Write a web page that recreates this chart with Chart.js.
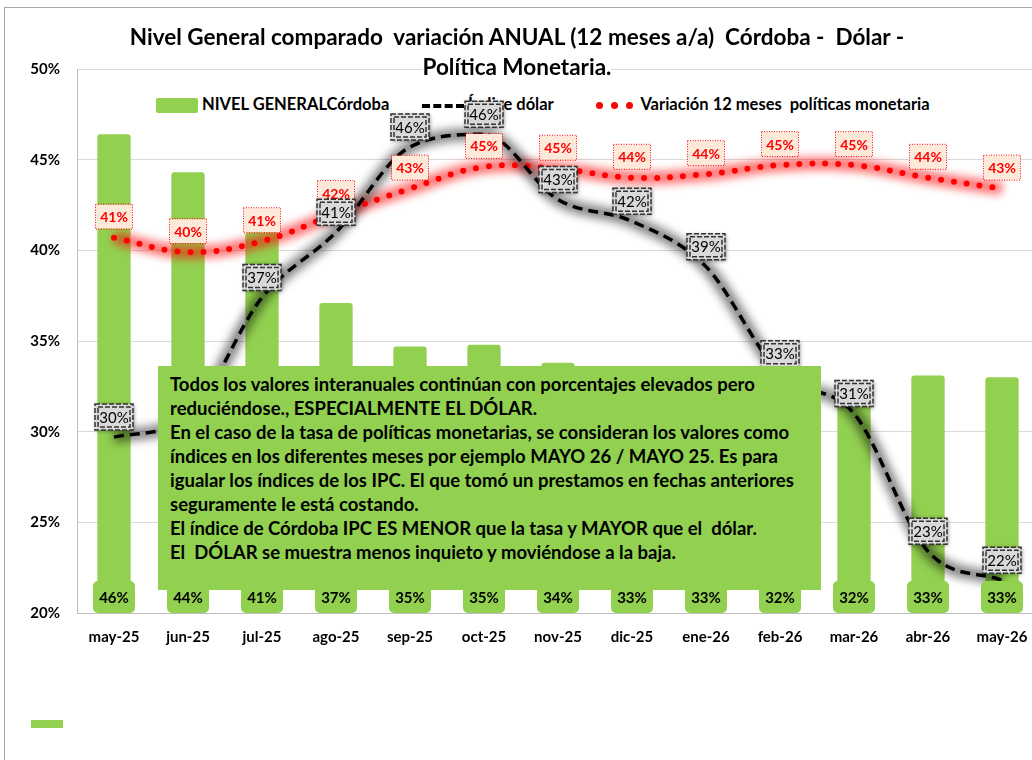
<!DOCTYPE html>
<html>
<head>
<meta charset="utf-8">
<script src="https://cdn.jsdelivr.net/npm/chart.js@4"></script>
<style>
    html, body { margin: 0; padding: 0; background: #fff; overflow: hidden; }
    body { width: 1032px; height: 760px; position: relative; font-family: Lato, 'Open Sans', sans-serif; }
    #frame { position: absolute; left: 4px; top: 7px; width: 1100px; height: 800px; border: 1px solid #a6a6a6; }
    #title { position: absolute; left: 0; top: 22px; width: 1034px; text-align: center; font-weight: bold; font-size: 22.5px; line-height: 30px; color: #000; z-index: 3; }
    #title span { background: #fff; }
    #legend { position: absolute; left: 156px; top: 94px; font-size: 16.5px; font-weight: bold; color: #000; z-index: 0; white-space: nowrap; }
    #legend .item { position: absolute; top: 0; line-height: 20px; }
    .swatch { display: inline-block; vertical-align: middle; }
    #chartWrap { position: absolute; left: 0; top: 0; width: 1045px; height: 760px; z-index: 1; }
    #note { position: absolute; left: 158px; top: 366px; width: 651px; height: 218px; padding: 6px 0 0 12px;
            background: #92d050; font-weight: bold; font-size: 18.5px; line-height: 24px; color: #000; z-index: 2; white-space: nowrap; }
    #stray { position: absolute; left: 31px; top: 720px; width: 32px; height: 8px; background: #92d050; }
</style>
</head>
<body>
<div id="frame"></div>
<div id="title">Nivel General comparado&nbsp; variación ANUAL (12 meses a/a)&nbsp; Córdoba -&nbsp; Dólar -<br><span>Política Monetaria.</span></div>

<div id="legend">
    <div class="item" style="left:0"><span class="swatch" style="width:42px;height:15px;background:#92d050;border-radius:2px"></span> NIVEL GENERALCórdoba</div>
    <div class="item" style="left:266px"><span class="swatch" style="width:42px;border-top:4px dashed #000"></span> Índice dólar</div>
    <div class="item" style="left:440px">
        <span class="swatch" style="width:7px;height:7px;border-radius:4px;background:#f00;margin-right:8px"></span><span class="swatch" style="width:7px;height:7px;border-radius:4px;background:#f00;margin-right:8px"></span><span class="swatch" style="width:7px;height:7px;border-radius:4px;background:#f00"></span>
        &nbsp;Variación 12 meses&nbsp; políticas monetaria</div>
</div>

<div id="chartWrap"><canvas id="chart" width="1045" height="760"></canvas></div>

<div id="note">Todos los valores interanuales continúan con porcentajes elevados pero<br>
reduciéndose., ESPECIALMENTE EL DÓLAR.<br>
En el caso de la tasa de políticas monetarias, se consideran los valores como<br>
índices en los diferentes meses por ejemplo MAYO 26 / MAYO 25. Es para<br>
igualar los índices de los IPC. El que tomó un prestamos en fechas anteriores<br>
seguramente le está costando.<br>
El índice de Córdoba IPC ES MENOR que la tasa y MAYOR que el&nbsp; dólar.<br>
El&nbsp; DÓLAR se muestra menos inquieto y moviéndose a la baja.</div>

<div id="stray"></div>

<script>
// Data (percent)
const months = ['may-25', 'jun-25', 'jul-25', 'ago-25', 'sep-25', 'oct-25', 'nov-25',
                'dic-25', 'ene-26', 'feb-26', 'mar-26', 'abr-26', 'may-26'];
const nivelCordoba = [46.4, 44.3, 41.0, 37.1, 34.7, 34.8, 33.8, 33.3, 33.0, 32.4, 32.2, 33.1, 33.0];
const indiceDolar = [29.7, 30.8, 37.4, 41.0, 45.7, 46.4, 42.8, 41.6, 39.1, 33.2, 31.0, 23.4, 21.8];
const politicaMonetaria = [40.7, 39.9, 40.5, 42.0, 43.4, 44.6, 44.5, 44.0, 44.2, 44.7, 44.7, 44.0, 43.4];
const yTicks = [20, 25, 30, 35, 40, 45, 50];

const GREEN = '#92d050';
const FONT = 'Lato, "Open Sans", sans-serif';

// Blur the glow datasets
const glowPlugin = {
    id: 'glow',
    beforeDatasetDraw(chart, args) {
        const ds = chart.data.datasets[args.index];
        if (ds.blur) {
            chart.ctx.save();
            chart.ctx.filter = `blur(${ds.blur}px)`;
        }
    },
    afterDatasetDraw(chart, args) {
        const ds = chart.data.datasets[args.index];
        if (ds.blur) chart.ctx.restore();
    }
};

function roundRect(ctx, x, y, w, h, r) {
    ctx.beginPath();
    ctx.moveTo(x + r, y);
    ctx.arcTo(x + w, y, x + w, y + h, r);
    ctx.arcTo(x + w, y + h, x, y + h, r);
    ctx.arcTo(x, y + h, x, y, r);
    ctx.arcTo(x, y, x + w, y, r);
    ctx.closePath();
}

// Value labels in little boxes
const labelPlugin = {
    id: 'valueLabels',
    afterDatasetsDraw(chart) {
        const ctx = chart.ctx;
        const area = chart.chartArea;
        const kinds = ['bar', 'tasa', 'dolar'];
        kinds.forEach(kind => {
            chart.data.datasets.forEach((ds, i) => {
                if (ds.labelKind !== kind) return;
                const meta = chart.getDatasetMeta(i);
                meta.data.forEach((el, j) => {
                    const text = Math.round(ds.data[j]) + '%';
                    ctx.save();
                    ctx.textAlign = 'center';
                    ctx.textBaseline = 'middle';
                    if (kind === 'bar') {
                        roundRect(ctx, el.x - 21, area.bottom - 32, 42, 32, 5);
                        ctx.fillStyle = GREEN;
                        ctx.fill();
                        ctx.fillStyle = '#000';
                        ctx.font = `bold 15px ${FONT}`;
                        ctx.fillText(text, el.x, area.bottom - 15);
                    } else if (kind === 'tasa') {
                        const cy = el.y - 21;
                        ctx.fillStyle = '#fde9d9';
                        ctx.fillRect(el.x - 18, cy - 12, 36, 24);
                        ctx.setLineDash([1, 1.5]);
                        ctx.strokeStyle = '#ff0000';
                        ctx.lineWidth = 1;
                        ctx.strokeRect(el.x - 18.5, cy - 12.5, 37, 25);
                        ctx.fillStyle = '#ff0000';
                        ctx.font = `bold 14px ${FONT}`;
                        ctx.fillText(text, el.x, cy + 1);
                    } else {
                        const cy = el.y - 20;
                        ctx.shadowColor = 'rgba(0,0,0,0.45)';
                        ctx.shadowBlur = 4;
                        ctx.shadowOffsetX = 1;
                        ctx.shadowOffsetY = 1;
                        ctx.fillStyle = '#d9d9d9';
                        ctx.fillRect(el.x - 19, cy - 13, 38, 26);
                        ctx.shadowColor = 'transparent';
                        ctx.setLineDash([5, 2]);
                        ctx.strokeStyle = '#333';
                        ctx.lineWidth = 1.5;
                        ctx.strokeRect(el.x - 19, cy - 13, 38, 26);
                        ctx.strokeRect(el.x - 16, cy - 10, 32, 20);
                        ctx.fillStyle = '#000';
                        ctx.font = `15px ${FONT}`;
                        ctx.fillText(text, el.x, cy + 1);
                    }
                    ctx.restore();
                });
            });
        });
    }
};

const ctx = document.getElementById('chart').getContext('2d');
const chart = new Chart(ctx, {
    data: {
        labels: months,
        datasets: [{
            type: 'bar',
            label: 'NIVEL GENERALCórdoba',
            data: nivelCordoba,
            backgroundColor: GREEN,
            barPercentage: 0.45,
            categoryPercentage: 1,
            borderRadius: { topLeft: 3, topRight: 3 },
            borderSkipped: 'bottom',
            labelKind: 'bar',
            order: 10
        }, {
            type: 'line',
            label: 'glow tasa',
            data: politicaMonetaria,
            borderColor: 'rgba(255,0,0,0.55)',
            borderWidth: 13,
            pointRadius: 0,
            tension: 0.4,
            blur: 4,
            order: 6
        }, {
            type: 'line',
            label: 'glow dolar',
            data: indiceDolar,
            borderColor: 'rgba(0,0,0,0.5)',
            borderWidth: 12,
            pointRadius: 0,
            cubicInterpolationMode: 'monotone',
            blur: 5,
            order: 5
        }, {
            type: 'line',
            label: 'Variación 12 meses  políticas monetaria',
            data: politicaMonetaria,
            borderColor: '#ff0000',
            borderWidth: 6,
            borderDash: [0, 13],
            borderCapStyle: 'round',
            pointRadius: 0,
            tension: 0.4,
            labelKind: 'tasa',
            order: 2
        }, {
            type: 'line',
            label: 'Índice dólar',
            data: indiceDolar,
            borderColor: '#000',
            borderWidth: 3.5,
            borderDash: [10, 6],
            pointRadius: 0,
            cubicInterpolationMode: 'monotone',
            labelKind: 'dolar',
            order: 1
        }]
    },
    options: {
        responsive: false,
        animation: false,
        layout: { padding: { top: 69, right: 6, left: 0, bottom: 0 } },
        plugins: {
            legend: { display: false },
            title: { display: false },
            tooltip: { enabled: false }
        },
        scales: {
            x: {
                offset: true,
                grid: { display: false, drawTicks: false },
                border: { color: '#bfbfbf', width: 1 },
                ticks: {
                    color: '#000',
                    padding: 15,
                    maxRotation: 0,
                    autoSkip: false,
                    font: { family: FONT, size: 15, weight: 'bold' }
                },
                afterFit: (scale) => { scale.height = 147; }
            },
            y: {
                min: 20,
                max: 50,
                grid: { color: '#d9d9d9', lineWidth: 1, drawTicks: false },
                border: { color: '#bfbfbf', width: 1 },
                afterBuildTicks: (scale) => { scale.ticks = yTicks.map(v => ({ value: v })); },
                ticks: {
                    color: '#000',
                    padding: 17,
                    font: { family: FONT, size: 15, weight: 'bold' },
                    callback: (v) => v + '%'
                },
                afterFit: (scale) => { scale.width = 77; }
            }
        }
    },
    plugins: [glowPlugin, labelPlugin]
});
</script>
</body>
</html>
